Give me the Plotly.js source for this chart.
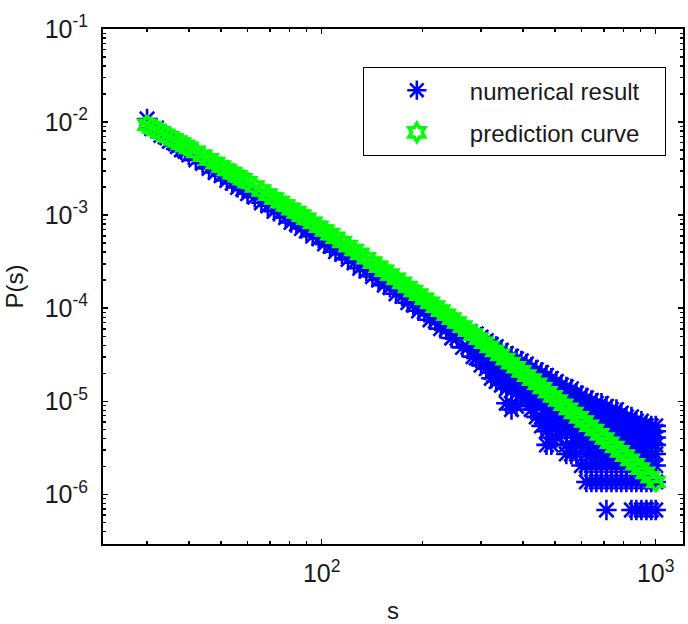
<!DOCTYPE html>
<html>
<head>
<meta charset="utf-8">
<script src="https://cdn.plot.ly/plotly-3.0.1.min.js"></script>
<style>
html,body{margin:0;padding:0;background:#fff;}
#chart{width:688px;height:624px;}
</style>
</head>
<body>
<div id="chart"></div>
<script>
// ---- prediction curve (green hexagrams) ----
const predS = [30,31,32,33,34,35,36,37,38,39,40,42,44,46,48,50,52,54,56,58,60,63,66,69,72,75,78,81,84,87,90,94,98,
  102,106,110,115,120,125,130,136,142,148,154,160,167,174,181,188,195,203,211,219,227,236,245,254,264,274,284,295,
  306,318,330,342,355,368,382,396,411,426,442,458,475,492,510,529,548,568,589,610,632,655,679,703,728,754,781,809,
  838,868,899,931,964,1000];
const predP = [9.34e-3,8.76e-3,8.24e-3,7.76e-3,7.31e-3,6.91e-3,6.53e-3,6.18e-3,5.86e-3,5.56e-3,5.28e-3,4.79e-3,4.35e-3,
  3.97e-3,3.63e-3,3.33e-3,3.07e-3,2.83e-3,2.62e-3,2.43e-3,2.26e-3,2.03e-3,1.84e-3,1.66e-3,1.51e-3,1.38e-3,1.27e-3,
  1.16e-3,1.07e-3,9.88e-4,9.14e-4,8.27e-4,7.51e-4,6.84e-4,6.25e-4,5.72e-4,5.15e-4,4.65e-4,4.22e-4,3.84e-4,3.44e-4,
  3.09e-4,2.79e-4,2.53e-4,2.30e-4,2.07e-4,1.87e-4,1.69e-4,1.53e-4,1.40e-4,1.26e-4,1.14e-4,1.04e-4,9.44e-5,8.52e-5,
  7.72e-5,7.02e-5,6.34e-5,5.74e-5,5.21e-5,4.71e-5,4.26e-5,3.84e-5,3.47e-5,3.15e-5,2.84e-5,2.57e-5,2.32e-5,2.10e-5,
  1.89e-5,1.71e-5,1.54e-5,1.39e-5,1.25e-5,1.13e-5,1.02e-5,9.19e-6,8.30e-6,7.48e-6,6.73e-6,6.07e-6,5.47e-6,4.92e-6,
  4.42e-6,3.98e-6,3.59e-6,3.23e-6,2.90e-6,2.61e-6,2.35e-6,2.11e-6,1.89e-6,1.70e-6,1.53e-6,1.36e-6];

// ---- numerical result (blue asterisks) ----
const numS = [30,31,32,33,34,35,36,37,38,39,40,42,44,46,48,50,52,54,56,58,60,63,66,69,72,75,78,81,84,87,90,94,98,
  102,106,110,115,120,125,130,136,142,148,154,160,167,174,181,188,195,203,211,219,227,236,245,254,264,274,284,
  290,290,290,290,
  300,300,300,300,
  311,311,311,311,
  322,322,322,322,322,
  333,333,333,333,333,
  345,345,345,345,345,
  357,357,357,357,357,357,
  370,370,370,370,370,370,370,
  383,383,383,383,383,383,
  396,396,396,396,396,
  410,410,410,410,410,
  424,424,424,424,424,424,
  439,439,439,439,439,439,
  455,455,455,455,455,455,455,
  471,471,471,471,471,471,471,471,
  487,487,487,487,487,487,487,487,
  504,504,504,504,504,504,504,
  522,522,522,522,522,522,
  540,540,540,540,540,540,540,540,
  559,559,559,559,559,559,559,559,
  579,579,579,579,579,579,579,
  599,599,599,599,599,599,599,599,
  620,620,620,620,620,620,620,620,620,
  642,642,642,642,642,642,642,642,642,642,
  664,664,664,664,664,664,664,664,664,
  688,688,688,688,688,688,688,688,688,
  712,712,712,712,712,712,712,712,712,712,
  737,737,737,737,737,737,737,737,737,
  763,763,763,763,763,763,763,763,
  789,789,789,789,789,789,789,789,
  817,817,817,817,817,817,817,817,
  846,846,846,846,846,846,846,846,846,
  875,875,875,875,875,875,875,875,875,
  906,906,906,906,906,906,906,906,
  938,938,938,938,938,938,938,938,
  970,970,970,970,970,970,970,970,
  1000,1000,1000,1000,1000,1000,1000,1000];
const numP = [1.08e-2,8.50e-3,8.65e-3,7.22e-3,6.94e-3,6.22e-3,6.01e-3,5.44e-3,5.04e-3,4.84e-3,4.44e-3,3.93e-3,3.61e-3,
  3.18e-3,2.87e-3,2.66e-3,2.36e-3,2.21e-3,1.99e-3,1.90e-3,1.70e-3,1.56e-3,1.36e-3,1.26e-3,1.10e-3,1.05e-3,9.40e-4,
  8.35e-4,8.03e-4,7.21e-4,6.76e-4,5.95e-4,5.63e-4,4.92e-4,4.63e-4,4.06e-4,3.81e-4,3.35e-4,3.08e-4,2.69e-4,2.51e-4,
  2.19e-4,2.01e-4,1.77e-4,1.68e-4,1.43e-4,1.35e-4,1.15e-4,1.09e-4,9.38e-5,9.07e-5,7.52e-5,7.28e-5,6.04e-5,5.88e-5,
  4.79e-5,4.77e-5,3.80e-5,3.79e-5,3.02e-5,
  5.304e-5,4.352e-5,3.536e-5,2.924e-5,
  4.896e-5,3.944e-5,3.196e-5,2.448e-5,
  4.488e-5,3.604e-5,2.856e-5,2.244e-5,
  4.08e-5,3.264e-5,2.584e-5,2.04e-5,1.768e-5,
  3.876e-5,3.128e-5,2.516e-5,2.04e-5,1.632e-5,
  3.536e-5,2.856e-5,2.312e-5,1.836e-5,1.496e-5,
  3.264e-5,2.652e-5,2.108e-5,1.7e-5,1.36e-5,9.52e-6,
  3.06e-5,2.448e-5,1.972e-5,1.564e-5,1.292e-5,9.52e-6,8.16e-6,
  2.856e-5,2.312e-5,1.836e-5,1.496e-5,1.224e-5,8.84e-6,
  2.72e-5,2.176e-5,1.768e-5,1.428e-5,1.156e-5,
  2.516e-5,2.04e-5,1.632e-5,1.292e-5,1.02e-5,
  2.312e-5,1.904e-5,1.564e-5,1.224e-5,9.52e-6,8.16e-6,
  2.176e-5,1.768e-5,1.428e-5,1.156e-5,8.84e-6,6.8e-6,
  2.04e-5,1.7e-5,1.36e-5,1.088e-5,8.84e-6,6.8e-6,5.44e-6,
  1.904e-5,1.564e-5,1.292e-5,1.02e-5,8.16e-6,6.12e-6,4.76e-6,3.4e-6,
  1.768e-5,1.428e-5,1.156e-5,9.52e-6,7.48e-6,5.44e-6,4.08e-6,3.4e-6,
  1.632e-5,1.36e-5,1.088e-5,8.84e-6,6.8e-6,5.44e-6,4.08e-6,
  1.496e-5,1.224e-5,1.02e-5,8.16e-6,6.12e-6,4.76e-6,
  1.428e-5,1.156e-5,9.52e-6,7.48e-6,6.12e-6,4.76e-6,3.4e-6,2.72e-6,
  1.36e-5,1.156e-5,9.52e-6,7.48e-6,6.12e-6,4.76e-6,3.4e-6,2.72e-6,
  1.224e-5,1.02e-5,8.84e-6,6.8e-6,5.44e-6,4.08e-6,2.72e-6,
  1.156e-5,9.52e-6,8.16e-6,6.8e-6,5.44e-6,4.08e-6,3.4e-6,2.04e-6,
  1.088e-5,8.84e-6,7.48e-6,6.12e-6,4.76e-6,3.4e-6,2.72e-6,2.04e-6,1.36e-6,
  1.02e-5,8.84e-6,7.48e-6,6.12e-6,4.76e-6,4.08e-6,3.4e-6,2.72e-6,2.04e-6,1.36e-6,
  9.52e-6,8.16e-6,6.8e-6,5.44e-6,4.08e-6,3.4e-6,2.72e-6,2.04e-6,1.36e-6,
  9.52e-6,8.16e-6,6.8e-6,5.44e-6,4.76e-6,3.4e-6,2.72e-6,2.04e-6,1.36e-6,
  8.84e-6,7.48e-6,6.12e-6,4.76e-6,4.08e-6,3.4e-6,2.72e-6,2.04e-6,1.36e-6,6.8e-7,
  8.16e-6,6.8e-6,5.44e-6,4.76e-6,4.08e-6,3.4e-6,2.72e-6,2.04e-6,1.36e-6,
  8.16e-6,6.8e-6,5.44e-6,4.08e-6,3.4e-6,2.72e-6,2.04e-6,1.36e-6,
  7.48e-6,6.12e-6,5.44e-6,4.08e-6,3.4e-6,2.72e-6,2.04e-6,1.36e-6,
  6.8e-6,6.12e-6,4.76e-6,4.08e-6,3.4e-6,2.72e-6,2.04e-6,1.36e-6,
  6.8e-6,5.44e-6,4.76e-6,4.08e-6,3.4e-6,2.72e-6,2.04e-6,1.36e-6,6.8e-7,
  6.12e-6,5.44e-6,4.76e-6,4.08e-6,3.4e-6,2.72e-6,2.04e-6,1.36e-6,6.8e-7,
  6.12e-6,4.76e-6,4.08e-6,3.4e-6,2.72e-6,2.04e-6,1.36e-6,6.8e-7,
  5.44e-6,4.76e-6,4.08e-6,3.4e-6,2.72e-6,2.04e-6,1.36e-6,6.8e-7,
  5.44e-6,4.76e-6,4.08e-6,3.4e-6,2.72e-6,2.04e-6,1.36e-6,6.8e-7,
  5.44e-6,4.76e-6,4.08e-6,3.4e-6,2.72e-6,2.04e-6,1.36e-6,6.8e-7];

const seriesNames = ['numerical result', 'prediction curve'];
const xTitle = 's';
const yTitle = 'P(s)';

// tick labels
const xTickVals = [100, 1000];
const xTickText = ['10<sup>2</sup>', '10<sup>3</sup>'];
const yTickVals = [1e-6, 1e-5, 1e-4, 1e-3, 1e-2, 1e-1];
const yTickText = ['10<sup>-6</sup>', '10<sup>-5</sup>', '10<sup>-4</sup>', '10<sup>-3</sup>', '10<sup>-2</sup>', '10<sup>-1</sup>'];
const xMinorVals = [30, 40, 50, 60, 70, 80, 90, 200, 300, 400, 500, 600, 700, 800, 900];
const yMinorVals = [3e-7, 4e-7, 5e-7, 6e-7, 7e-7, 8e-7, 9e-7,
  2e-6, 3e-6, 4e-6, 5e-6, 6e-6, 7e-6, 8e-6, 9e-6,
  2e-5, 3e-5, 4e-5, 5e-5, 6e-5, 7e-5, 8e-5, 9e-5,
  2e-4, 3e-4, 4e-4, 5e-4, 6e-4, 7e-4, 8e-4, 9e-4,
  2e-3, 3e-3, 4e-3, 5e-3, 6e-3, 7e-3, 8e-3, 9e-3,
  2e-2, 3e-2, 4e-2, 5e-2, 6e-2, 7e-2, 8e-2, 9e-2];

const FONT = 'Liberation Sans, Arial, sans-serif';
const TXT = '#1a1a1a';
const PAD = '\u00a0\u00a0\u00a0';

const traces = [
  {
    x: numS, y: numP, type: 'scatter', mode: 'markers', name: seriesNames[0] + PAD,
    legendgroup: 'a',
    marker: {symbol: 'asterisk-open', size: 17, color: '#0000ff', line: {width: 2.6, color: '#0000ff'}}
  },
  {
    x: predS, y: predP, type: 'scatter', mode: 'markers', name: seriesNames[1] + PAD,
    legendgroup: 'b',
    marker: {symbol: 'hexagram-open', size: 14, color: '#00ff00', line: {width: 3.4, color: '#00ff00'}}
  }
];

const axisCommon = {
  type: 'log',
  showgrid: false,
  zeroline: false,
  showline: true,
  linecolor: '#000',
  linewidth: 2,
  mirror: 'ticks',
  ticks: 'inside',
  ticklen: 5,
  tickwidth: 1.5,
  tickcolor: '#000',
  tickmode: 'array',
  tickfont: {family: FONT, size: 25, color: TXT},
  minor: {ticks: 'inside', ticklen: 3, tickcolor: '#000', tickwidth: 1.5, showgrid: false, tickmode: 'array'}
};

const layout = {
  width: 688, height: 624,
  margin: {l: 103, r: 5, t: 29, b: 80, pad: 0},
  paper_bgcolor: '#ffffff',
  plot_bgcolor: '#ffffff',
  showlegend: true,
  hovermode: false,
  xaxis: Object.assign({}, axisCommon, {
    range: [1.3452, 3.0817],
    tickvals: xTickVals, ticktext: xTickText,
    minor: Object.assign({}, axisCommon.minor, {tickvals: xMinorVals}),
    ticklabelstandoff: 6,
    title: {text: xTitle, font: {family: FONT, size: 24, color: TXT}, standoff: 20}
  }),
  yaxis: Object.assign({}, axisCommon, {
    range: [-6.533, -1],
    tickvals: yTickVals, ticktext: yTickText,
    minor: Object.assign({}, axisCommon.minor, {tickvals: yMinorVals}),
    ticklabelstandoff: 8,
    title: {text: yTitle, font: {family: FONT, size: 24, color: TXT}, standoff: 14}
  }),
  legend: {
    x: 0.448, y: 0.926, xanchor: 'left', yanchor: 'top',
    bgcolor: '#ffffff', bordercolor: '#000', borderwidth: 1,
    font: {family: FONT, size: 24, color: TXT},
    itemwidth: 96,
    tracegroupgap: 8
  }
};

Plotly.newPlot('chart', traces, layout, {displayModeBar: false, staticPlot: true});
</script>
</body>
</html>
